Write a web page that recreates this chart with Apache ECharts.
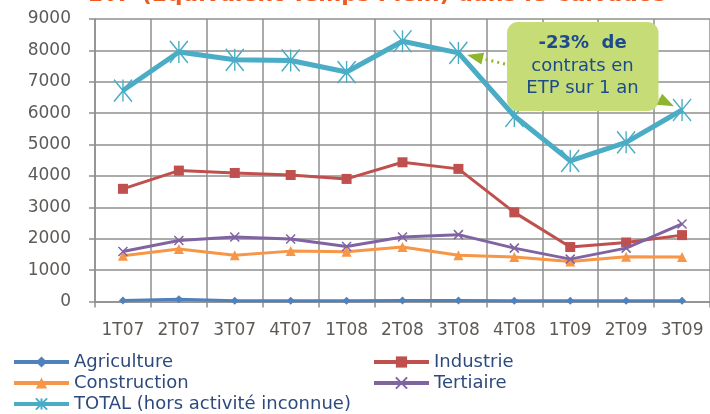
<!DOCTYPE html>
<html><head><meta charset="utf-8">
<script src="https://cdn.jsdelivr.net/npm/echarts@6/dist/echarts.min.js"></script>
<style>html,body{margin:0;padding:0;background:#fff}#c{width:710px;height:414px}</style>
</head><body><div id="c"></div>
<script>
const categories = ['1T07','2T07','3T07','4T07','1T08','2T08','3T08','4T08','1T09','2T09','3T09'];
const agriculture = [30, 70, 25, 25, 25, 30, 30, 25, 20, 25, 25];
const industrie = [3590, 4170, 4095, 4030, 3905, 4435, 4225, 2840, 1735, 1880, 2115];
const construction = [1460, 1670, 1470, 1605, 1585, 1735, 1470, 1415, 1275, 1425, 1415];
const tertiaire = [1595, 1945, 2055, 1990, 1755, 2055, 2130, 1700, 1350, 1700, 2470];
const total = [6720, 7950, 7700, 7680, 7310, 8290, 7920, 5910, 4480, 5070, 6100];
const yTicks = { min: 0, max: 9000, interval: 1000 };
const titleText = 'ETP (Equivalent Temps Plein) dans le Calvados';
const noteLines = ['-23%  de', 'contrats en', 'ETP sur 1 an'];

const FONT = 'DejaVu Sans';
const gridCol = '#8f8f8f';
const chart = echarts.init(document.getElementById('c'), null, {renderer: 'canvas'});
const star = 'path://M0 0L10 10M10 0L0 10M5 0L5 10';
const xmark = 'path://M0 0L10 10M10 0L0 10';
function ser(name, data, color, symbol, size, lw, bw) {
  return {
    name, type: 'line', data, symbol, symbolSize: size,
    lineStyle: {color, width: lw},
    itemStyle: {color, borderColor: color, borderWidth: bw},
    emphasis: {disabled: true}, animation: false
  };
}
const legendCommon = {orient: 'vertical', top: 353, itemGap: 3, itemWidth: 55, itemHeight: 14, padding: 0,
  textStyle: {color: '#2e4a7d', fontSize: 18, fontFamily: FONT}, lineStyle: {width: 4}};
chart.setOption({
  animation: false,
  textStyle: {fontFamily: FONT},
  grid: {left: 95, top: 19, width: 621.5, height: 282.5},
  xAxis: {
    type: 'category', data: categories, boundaryGap: true,
    axisLine: {lineStyle: {color: gridCol, width: 1.5}},
    axisTick: {show: true, length: 6, lineStyle: {color: gridCol, width: 1.5}},
    splitLine: {show: true, lineStyle: {color: gridCol, width: 1.5}},
    axisLabel: {color: '#5e5a57', fontSize: 17, fontFamily: FONT, margin: 21, interval: 0}
  },
  yAxis: {
    type: 'value', min: yTicks.min, max: yTicks.max, interval: yTicks.interval,
    axisLine: {show: true, lineStyle: {color: gridCol, width: 1.5}},
    axisTick: {show: true, length: 6, lineStyle: {color: gridCol, width: 1.5}},
    splitLine: {lineStyle: {color: gridCol, width: 1.5}},
    axisLabel: {color: '#5e5a57', fontSize: 17, fontFamily: FONT, margin: 24, formatter: v => String(v)}
  },
  legend: [
    Object.assign({data: ['Agriculture', 'Construction', 'TOTAL (hors activité inconnue)'], left: 12}, legendCommon),
    Object.assign({data: ['Industrie', 'Tertiaire'], left: 372}, legendCommon)
  ],
  series: [
    ser('Agriculture', agriculture, '#4f81bd', 'diamond', 8, 3, 0),
    ser('Industrie', industrie, '#c0504d', 'rect', 10, 3, 0),
    ser('Construction', construction, '#f79646', 'triangle', 10, 3, 0),
    ser('Tertiaire', tertiaire, '#8064a2', xmark, 9, 3, 1.5),
    ser('TOTAL (hors activité inconnue)', total, '#4bacc6', star, [18, 22], 5, 1.5)
  ]
});

// annotation, arrows computed from data positions
const p1 = chart.convertToPixel({seriesIndex: 4}, [6, total[6]]);
const p2 = chart.convertToPixel({seriesIndex: 4}, [10, total[10]]);
function arrow(start, target, stopDist) {
  const dx = target[0] - start[0], dy = target[1] - start[1];
  const L = Math.hypot(dx, dy);
  const ux = dx / L, uy = dy / L;
  const tip = [target[0] - ux * stopDist, target[1] - uy * stopDist];
  const headLen = 16, headW = 6;
  const base = [tip[0] - ux * headLen, tip[1] - uy * headLen];
  const nx = -uy, ny = ux;
  return [
    {type: 'polyline', z: 100, shape: {points: [start, base]}, style: {stroke: '#8db52e', lineWidth: 3, lineDash: [2, 4], fill: null}},
    {type: 'polygon', z: 100, shape: {points: [tip, [base[0] + nx * headW, base[1] + ny * headW], [base[0] - nx * headW, base[1] - ny * headW]]}, style: {fill: '#8db52e'}}
  ];
}
const gfx = [
  {type: 'text', z: 100, x: 377, y: 6, style: {text: titleText, fill: '#ee5a24', font: 'bold 22px "DejaVu Sans"', textAlign: 'center', textVerticalAlign: 'bottom'}},
  {type: 'rect', z: 100, shape: {x: 507, y: 22, width: 151.5, height: 89, r: 11}, style: {fill: '#c5dc77'}},
  {type: 'text', z: 101, x: 582.5, y: 43, style: {text: noteLines[0], fill: '#1d4a8c', font: 'bold 18px "DejaVu Sans"', textAlign: 'center', textVerticalAlign: 'middle'}},
  {type: 'text', z: 101, x: 582.5, y: 66, style: {text: noteLines[1], fill: '#1d4a8c', font: '18px "DejaVu Sans"', textAlign: 'center', textVerticalAlign: 'middle'}},
  {type: 'text', z: 101, x: 582.5, y: 88, style: {text: noteLines[2], fill: '#1d4a8c', font: '18px "DejaVu Sans"', textAlign: 'center', textVerticalAlign: 'middle'}},
  ...arrow([505, 64], p1, 9),
  ...arrow([659, 99], p2, 9)
];
chart.setOption({graphic: gfx});
</script></body></html>
